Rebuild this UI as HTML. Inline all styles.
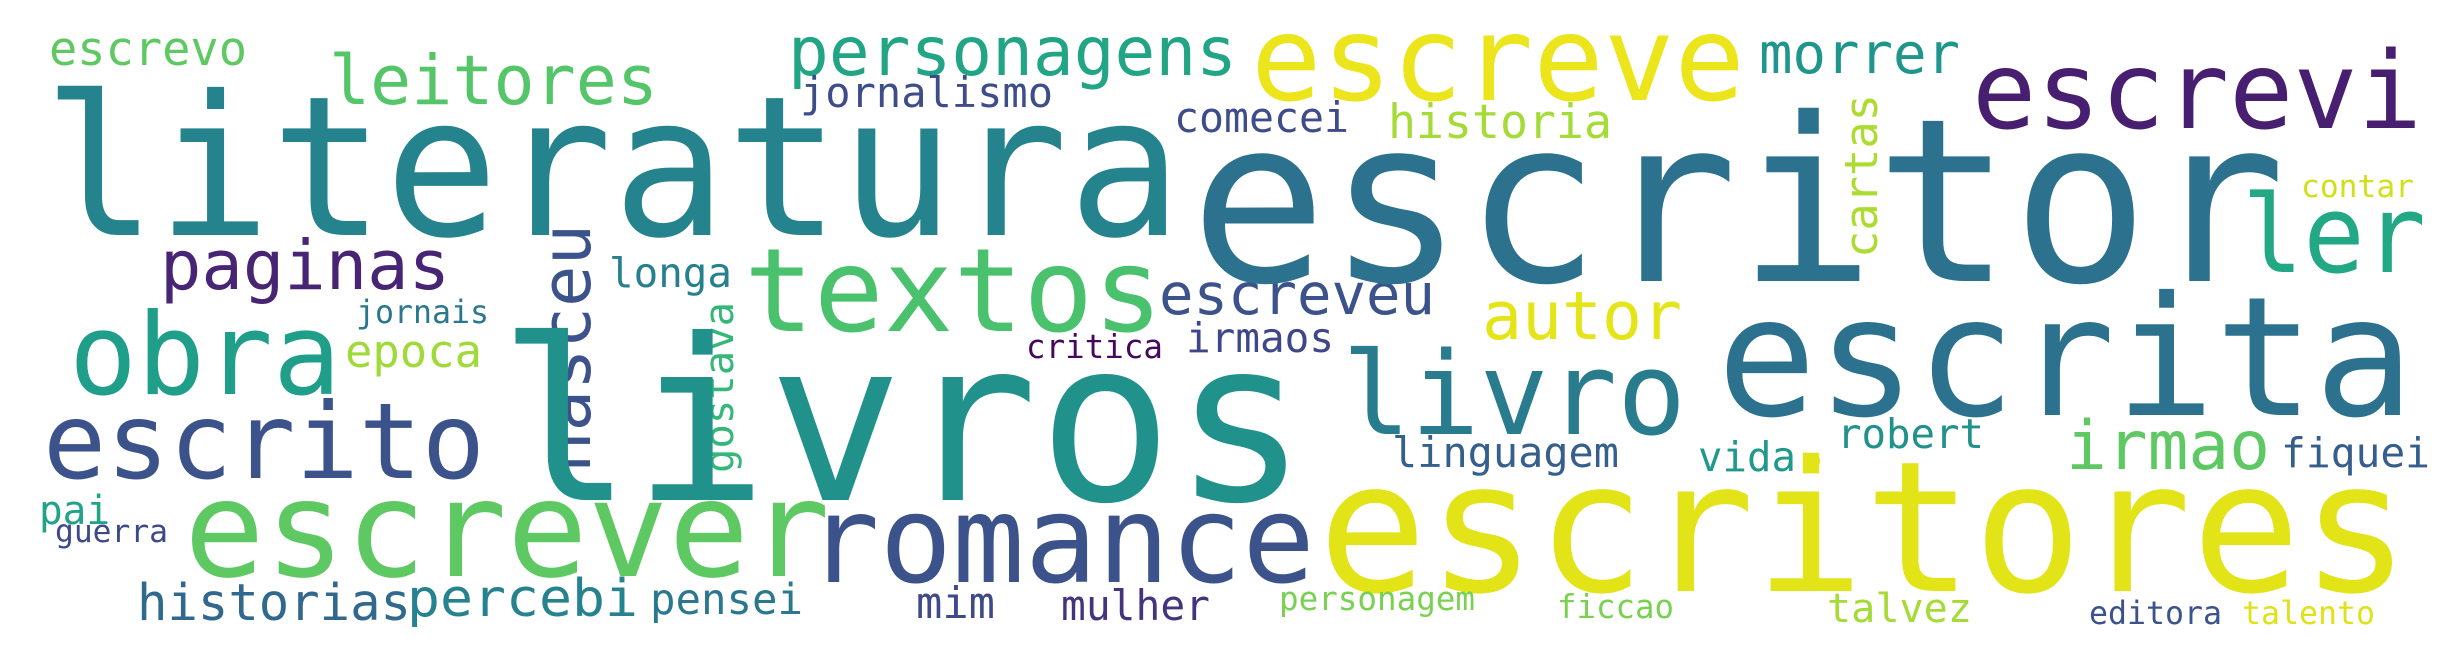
<!DOCTYPE html>
<html><head><meta charset="utf-8"><style>
html,body{margin:0;padding:0;background:#fff;}
svg{display:block;}
text{font-family:"DejaVu Sans Mono","Liberation Mono",monospace;}
</style></head><body>
<svg id="cloud" width="2456" height="657" viewBox="0 0 2456 657" xmlns="http://www.w3.org/2000/svg">
<rect width="2456" height="657" fill="#ffffff"/>
<circle cx="1812" cy="461" r="8" fill="#e2e418"/>
</svg>
<script>
// word, x(left), baseline y, width, font-size, color, rotated
const words = ["escrevo","literatura","leitores","personagens","jornalismo","paginas","nasceu","longa","textos","obra","jornais","epoca","gostava","critica","escrito","livros","pai","guerra","escrever","romance","historias","percebi","pensei","mim","mulher","comecei","escreveu","irmaos","escreve","morrer","escrevi","historia","cartas","escritor","ler","contar","autor","livro","escrita","linguagem","vida","robert","irmao","fiquei","escritores","personagem","ficcao","talvez","editora","talento"];
const sizes = [47,195,69,68,42,69,69,41,116,113,32,45,40,33,105,225,40,31,134,121,51,52,43,44,42,42,57,41,118,56,107,47,45,228,108,31,67,115,166,42,41,41,68,41,182,33,33,40,32,32];
const colors = ["#5ec962","#25838d","#54c568","#21a585","#3e4c8a","#482475","#3b528b","#27808e","#4ac16d","#1f9e89","#2a788e","#a0da39","#35b779","#46085c","#3b528b","#21918c","#20a386","#3e4989","#5ec962","#3b528b","#31688e","#26828e","#2a788e","#3e4a89","#46337e","#3e4c8a","#3b528b","#3f4788","#ecE51b","#1f968b","#481f70","#a5db36","#addc30","#2c728e","#22a884","#d0e11c","#e5e419","#287c8e","#2c728e","#355f8d","#1f9a8a","#21918c","#5ec962","#355e8d","#e2e418","#7ad151","#7ad151","#a5db36","#3b528b","#dde318"];
const layout = [
[49,65,198,0],[43,235,1139,0],[329,104,329,0],[788,75,449,0],[800,107,253,0],[160,289,290,0],[590,473,249,1],[609,287,123,0],[744,331,419,0],[69,394,272,0],[356,323,133,0],[345,367,137,0],[733,473,171,1],[1026,358,137,0],[43,478,442,0],[498,500,810,0],[39,524,71,0],[55,542,113,0],[184,576,646,0],[807,582,508,0],[137,620,274,0],[407,616,231,0],[650,614,153,0],[916,618,79,0],[1061,620,149,0],[1174,132,175,0],[1159,314,276,0],[1186,352,148,0],[1251,100,494,0],[1759,73,201,0],[1972,128,450,0],[1388,138,224,0],[1877,258,164,1],[1190,281,1096,0],[2242,272,184,0],[2301,197,113,0],[1482,339,200,0],[1342,434,344,0],[1717,415,697,0],[1392,467,227,0],[1698,471,98,0],[1837,448,147,0],[2066,469,204,0],[2281,467,149,0],[1318,591,1092,0],[1279,610,196,0],[1557,618,117,0],[1827,622,145,0],[2089,624,133,0],[2242,624,133,0]
];
const svg = document.getElementById('cloud');
const NS = 'http://www.w3.org/2000/svg';
words.forEach((w,i)=>{
  const [x,y,wd,rot] = layout[i];
  const t = document.createElementNS(NS,'text');
  t.textContent = w;
  
  
  t.setAttribute('x', x);
  t.setAttribute('y', y);
  t.setAttribute('font-size', sizes[i]);
  t.setAttribute('fill', colors[i]);
  t.setAttribute('textLength', wd);
  t.setAttribute('lengthAdjust', 'spacingAndGlyphs');
  if (rot) t.setAttribute('transform', 'rotate(-90 ' + x + ' ' + y + ')');
  svg.appendChild(t);
});
</script>
</body></html>
